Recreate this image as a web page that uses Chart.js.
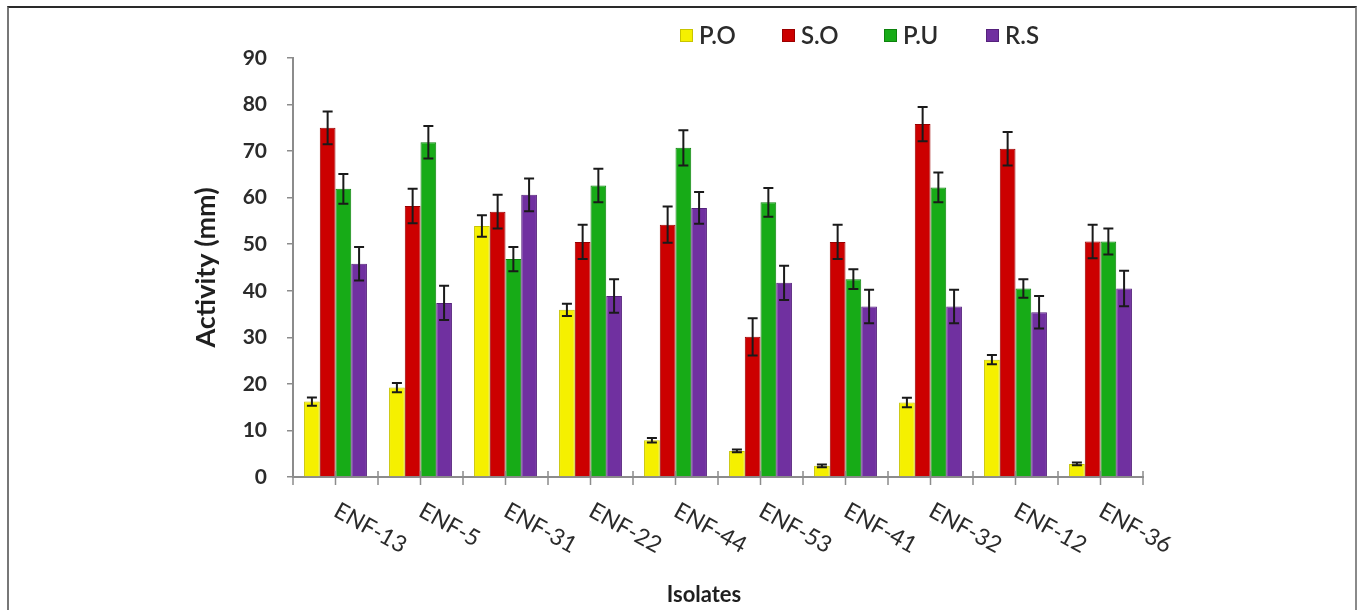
<!DOCTYPE html>
<html>
<head>
<meta charset="utf-8">
<script src="https://cdn.jsdelivr.net/npm/chart.js@4.4.1/dist/chart.umd.min.js"></script>
<style>
  html, body { margin: 0; padding: 0; background: #fff; }
  #wrap { position: relative; width: 1357px; height: 610px; overflow: hidden; }
  #chart { position: absolute; left: 0; top: 0; }
  #frame {
    position: absolute; left: 7px; top: 6px; width: 1346px; height: 700px;
    border-top: 2px solid #2a2a2a; border-left: 2px solid #777; border-right: 2px solid #8a8a8a;
    pointer-events: none;
  }
</style>
</head>
<body>
<div id="wrap">
  <canvas id="chart" width="1357" height="610"></canvas>
  <div id="frame"></div>
</div>
<script>
const isolates = ["ENF-13", "ENF-5", "ENF-31", "ENF-22", "ENF-44", "ENF-53", "ENF-41", "ENF-32", "ENF-12", "ENF-36"];

const poValues = [16.2, 19.2, 53.9, 35.9, 7.9, 5.6, 2.4, 16.0, 25.2, 2.8];
const soValues = [75.0, 58.2, 57.0, 50.5, 54.2, 30.1, 50.5, 75.8, 70.5, 50.6];
const puValues = [61.9, 71.9, 46.8, 62.6, 70.7, 59.0, 42.5, 62.2, 40.5, 50.6];
const rsValues = [45.8, 37.4, 60.6, 38.9, 57.8, 41.7, 36.6, 36.6, 35.4, 40.5];

const poErrors = [0.9, 1.0, 2.3, 1.3, 0.5, 0.3, 0.3, 1.0, 1.0, 0.3];
const soErrors = [3.5, 3.7, 3.6, 3.7, 3.9, 4.0, 3.7, 3.7, 3.6, 3.6];
const puErrors = [3.2, 3.5, 2.6, 3.6, 3.8, 3.1, 2.1, 3.2, 2.0, 2.8];
const rsErrors = [3.6, 3.7, 3.5, 3.6, 3.4, 3.7, 3.6, 3.6, 3.5, 3.8];

const yTicks = [0, 10, 20, 30, 40, 50, 60, 70, 80, 90];

const textColor = "#2b2b2b";
const axisColor = "#8c8c8c";

function makeDataset(label, data, errors, fill, edge) {
  return {
    label,
    data,
    errors,
    backgroundColor: fill,
    borderColor: edge,
    borderWidth: 1,
    categoryPercentage: 0.74,
    barPercentage: 1.0
  };
}

// black error bars with caps on both ends
const errorBars = {
  id: "errorBars",
  afterDatasetsDraw(chart) {
    const { ctx } = chart;
    const y = chart.scales.y;
    ctx.save();
    ctx.strokeStyle = "#1a1a1a";
    ctx.lineWidth = 2;
    chart.data.datasets.forEach((ds, di) => {
      const meta = chart.getDatasetMeta(di);
      meta.data.forEach((bar, i) => {
        const v = ds.data[i];
        const e = ds.errors[i];
        const top = y.getPixelForValue(v + e);
        const bottom = y.getPixelForValue(v - e);
        const cap = 5;
        ctx.beginPath();
        ctx.moveTo(bar.x, top);
        ctx.lineTo(bar.x, bottom);
        ctx.moveTo(bar.x - cap, top);
        ctx.lineTo(bar.x + cap, top);
        ctx.moveTo(bar.x - cap, bottom);
        ctx.lineTo(bar.x + cap, bottom);
        ctx.stroke();
      });
    });
    ctx.restore();
  }
};

// cross tick marks on the category axis, slanted labels and axis title
const categoryAxis = {
  id: "categoryAxis",
  afterDraw(chart) {
    const { ctx, chartArea } = chart;
    const x = chart.scales.x;
    const bottom = chartArea.bottom;
    const half = (x.getPixelForValue(1) - x.getPixelForValue(0)) / 2;
    ctx.save();
    ctx.strokeStyle = axisColor;
    ctx.lineWidth = 1.5;
    ctx.beginPath();
    isolates.forEach((name, i) => {
      const cx = x.getPixelForValue(i);
      [cx - half, cx].forEach((px) => {
        ctx.moveTo(px, bottom - 6);
        ctx.lineTo(px, bottom + 8);
      });
    });
    const last = x.getPixelForValue(isolates.length - 1) + half;
    ctx.moveTo(last, bottom - 6);
    ctx.lineTo(last, bottom + 8);
    ctx.stroke();

    ctx.fillStyle = textColor;
    ctx.font = "23px Lato";
    ctx.textAlign = "left";
    ctx.textBaseline = "top";
    isolates.forEach((name, i) => {
      const cx = x.getPixelForValue(i);
      ctx.save();
      ctx.translate(cx + 6, bottom + 22);
      ctx.rotate(29 * Math.PI / 180);
      ctx.fillText(name, 0, 0);
      ctx.restore();
    });

    ctx.fillStyle = "#1f1f1f";
    ctx.font = "bold 22px Lato";
    ctx.textAlign = "center";
    ctx.textBaseline = "middle";
    ctx.fillText("Isolates", (chartArea.left + chartArea.right) / 2 - 14, 595);
    ctx.restore();
  }
};

// legend row above the plot
const topLegend = {
  id: "topLegend",
  afterDraw(chart) {
    const { ctx } = chart;
    ctx.save();
    ctx.font = "600 24px Lato";
    ctx.textBaseline = "middle";
    ctx.textAlign = "left";
    let left = 680;
    chart.data.datasets.forEach((ds) => {
      ctx.fillStyle = ds.backgroundColor;
      ctx.strokeStyle = ds.borderColor;
      ctx.lineWidth = 1;
      ctx.fillRect(left, 29, 13, 13);
      ctx.strokeRect(left + 0.5, 29.5, 12, 12);
      ctx.fillStyle = textColor;
      ctx.fillText(ds.label, left + 19, 36);
      left += 102;
    });
    ctx.restore();
  }
};

new Chart(document.getElementById("chart"), {
  type: "bar",
  data: {
    labels: isolates,
    datasets: [
      makeDataset("P.O", poValues, poErrors, "#f5f000", "#c8c400"),
      makeDataset("S.O", soValues, soErrors, "#cc0000", "#9a0000"),
      makeDataset("P.U", puValues, puErrors, "#17ab17", "#0d820d"),
      makeDataset("R.S", rsValues, rsErrors, "#7030a0", "#55217c")
    ]
  },
  options: {
    responsive: false,
    animation: false,
    devicePixelRatio: 1,
    layout: { padding: { left: 190, top: 58, right: 214, bottom: 0 } },
    plugins: {
      legend: { display: false },
      tooltip: { enabled: false }
    },
    scales: {
      x: {
        grid: { display: false },
        border: { display: true, color: axisColor, width: 2 },
        ticks: { display: false },
        title: { display: false },
        afterFit(scale) { scale.height = 133; }
      },
      y: {
        min: 0,
        max: 90,
        afterBuildTicks(scale) { scale.ticks = yTicks.map((v) => ({ value: v })); },
        grid: { drawOnChartArea: false, drawTicks: true, tickLength: 6, color: axisColor, lineWidth: 1.5 },
        border: { display: true, color: axisColor, width: 2 },
        ticks: {
          color: textColor,
          padding: 20,
          font: { family: "Lato", size: 21, weight: "bold" }
        },
        title: {
          display: true,
          text: "Activity (mm)",
          color: "#1f1f1f",
          font: { family: "Lato", size: 27, weight: "bold" },
          padding: { top: 0, bottom: 0 }
        },
        afterFit(scale) { scale.width = 103; }
      }
    }
  },
  plugins: [errorBars, categoryAxis, topLegend]
});
</script>
</body>
</html>
